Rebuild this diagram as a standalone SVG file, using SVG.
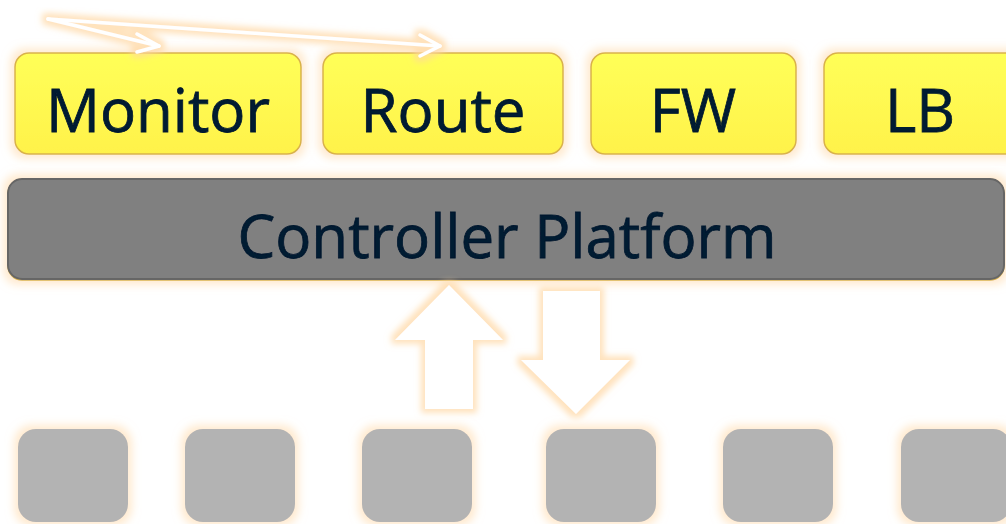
<svg xmlns="http://www.w3.org/2000/svg" width="1006" height="524" viewBox="0 0 1006 524">
  <defs>
    <filter id="glow" x="-20%" y="-30%" width="140%" height="160%">
      <feMorphology in="SourceAlpha" operator="dilate" radius="4" result="d"/>
      <feGaussianBlur in="d" stdDeviation="4" result="b"/>
      <feFlood flood-color="#ffd9a8" flood-opacity="0.55"/>
      <feComposite in2="b" operator="in" result="g"/>
      <feMerge><feMergeNode in="g"/><feMergeNode in="SourceGraphic"/></feMerge>
    </filter>
    <filter id="glowStrong" x="-20%" y="-30%" width="140%" height="160%">
      <feMorphology in="SourceAlpha" operator="dilate" radius="4" result="d"/>
      <feGaussianBlur in="d" stdDeviation="3" result="b"/>
      <feFlood flood-color="#ffd6a0" flood-opacity="0.7"/>
      <feComposite in2="b" operator="in" result="g"/>
      <feMerge><feMergeNode in="g"/><feMergeNode in="SourceGraphic"/></feMerge>
    </filter>
    <linearGradient id="yel" x1="0" y1="0" x2="0" y2="1">
      <stop offset="0" stop-color="#ffff58"/>
      <stop offset="1" stop-color="#fff24a"/>
    </linearGradient>
    <style>
      .app rect { fill: url(#yel); stroke: #d9b24a; stroke-width: 1.5; }
      .lbl { font-family: "Open Sans", "Liberation Sans", sans-serif; font-size: 60px; fill: #021a30; stroke: #021a30; stroke-width: 0.8; text-anchor: middle; }
      .sw rect { fill: #b3b3b3; }
      .bigarrow { fill: #ffffff; }
      .flow { fill: none; stroke: #ffffff; stroke-width: 3.5; stroke-linecap: round; stroke-linejoin: round; }
    </style>
  </defs>

  <!-- top application boxes -->
  <g id="monitor" class="app" filter="url(#glow)">
    <rect x="15" y="53" width="286" height="101" rx="14"/>
    <text class="lbl" x="158" y="132">Monitor</text>
  </g>
  <g id="route" class="app" filter="url(#glow)">
    <rect x="323" y="53" width="240" height="101" rx="14"/>
    <text class="lbl" x="443" y="132">Route</text>
  </g>
  <g id="fw" class="app" filter="url(#glow)">
    <rect x="591" y="53" width="205" height="101" rx="14"/>
    <text class="lbl" x="693" y="132">FW</text>
  </g>
  <g id="lb" class="app" filter="url(#glow)">
    <rect x="824" y="53" width="200" height="101" rx="14"/>
    <text class="lbl" x="920" y="132">LB</text>
  </g>

  <!-- controller platform bar -->
  <g id="controller" filter="url(#glow)">
    <rect x="8" y="179" width="996" height="100" rx="14" fill="#808080" stroke="#d8b24a" stroke-width="1.5" transform="translate(0,1)"/>
    <rect x="8" y="179" width="996" height="100" rx="14" fill="#808080" stroke="#666666" stroke-width="2"/>
    <text class="lbl" x="507" y="258">Controller Platform</text>
  </g>

  <!-- switches -->
  <g id="sw1" class="sw" filter="url(#glow)"><rect x="18" y="429" width="110" height="93" rx="18"/></g>
  <g id="sw2" class="sw" filter="url(#glow)"><rect x="185" y="429" width="110" height="93" rx="18"/></g>
  <g id="sw3" class="sw" filter="url(#glow)"><rect x="362" y="429" width="110" height="93" rx="18"/></g>
  <g id="sw4" class="sw" filter="url(#glow)"><rect x="546" y="429" width="110" height="93" rx="18"/></g>
  <g id="sw5" class="sw" filter="url(#glow)"><rect x="723" y="429" width="110" height="93" rx="18"/></g>
  <g id="sw6" class="sw" filter="url(#glow)"><rect x="901" y="429" width="110" height="93" rx="18"/></g>

  <!-- connectors -->
  <g id="connectors">
    <g filter="url(#glowStrong)">
      <polygon class="bigarrow" points="449,285 503,340 473,340 473,409 425,409 425,340 395,340"/>
      <polygon class="bigarrow" points="543,291 600,291 600,360 630,360 576,414 521,360 543,360"/>
    </g>
    <g filter="url(#glowStrong)">
      <path class="flow" d="M48,19 L159,46"/>
      <path class="flow" d="M137,34 L159,46 L137,52"/>
      <path class="flow" d="M48,19 L440,46"/>
      <path class="flow" d="M420,35 L440,46 L420,56"/>
    </g>
  </g>
</svg>
